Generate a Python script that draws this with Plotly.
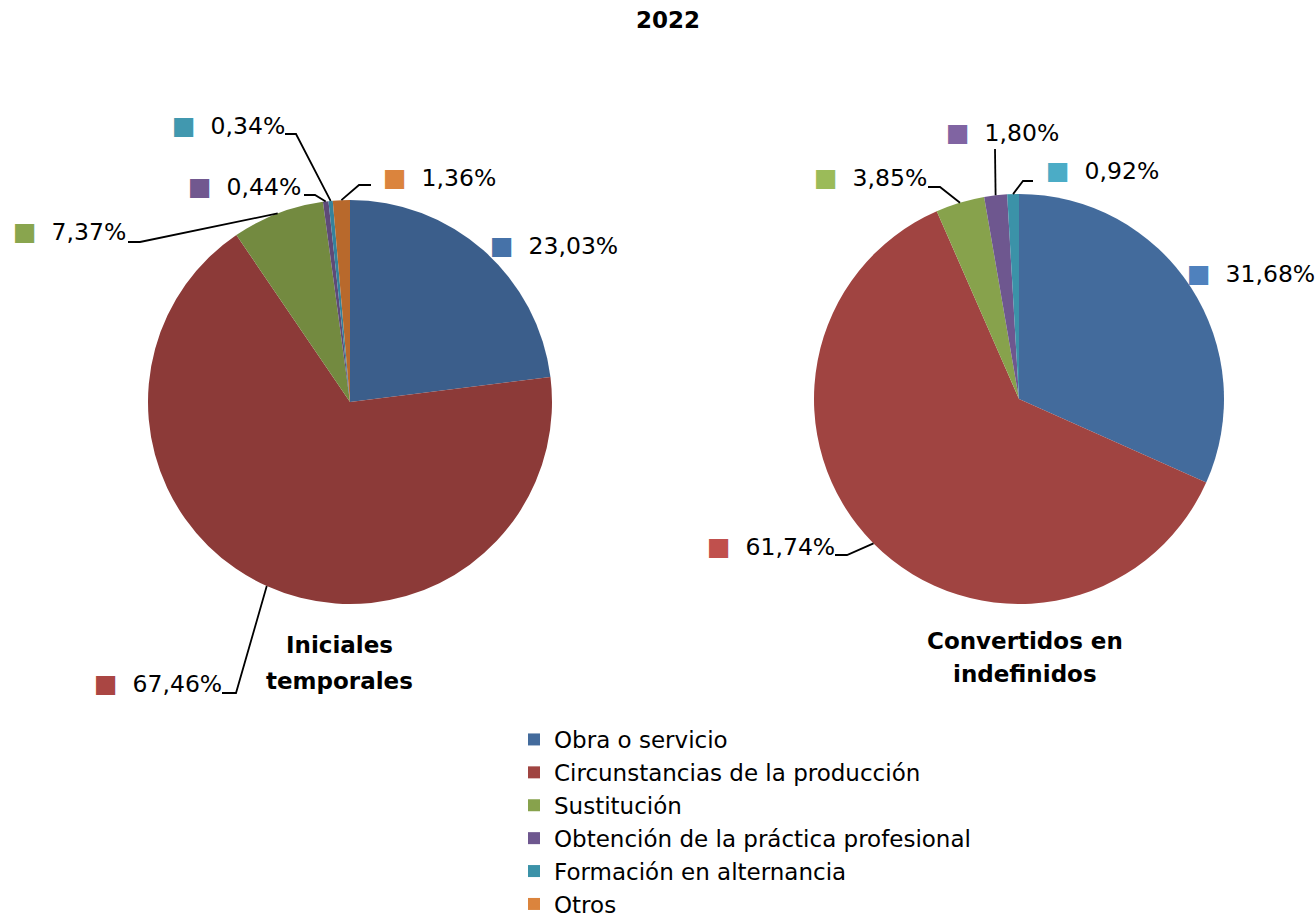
import math
import plotly.graph_objects as go

# ---------------- data ----------------
categories = ["Obra o servicio", "Circunstancias de la producción", "Sustitución",
              "Obtención de la práctica profesional", "Formación en alternancia", "Otros"]
iniciales_pct = [23.03, 67.46, 7.37, 0.44, 0.34, 1.36]
convertidos_pct = [31.68, 61.74, 3.85, 1.80, 0.92, 0.0]
chart_title = "2022"
pie_titles = [["Iniciales", "temporales"], ["Convertidos en", "indefinidos"]]

# ---------------- styles ----------------
W, H = 1316, 923
FONT = "DejaVu Sans"
left_slice_colors = ["#3B5E8B", "#8C3A38", "#738A40", "#5E4A78", "#35829B", "#B8692C"]
right_slice_colors = ["#436B9C", "#A04441", "#87A24C", "#6E578F", "#3B92A8", "#DB843D"]
left_key_colors = ["#4672A8", "#AA4643", "#89A54E", "#71588F", "#4198AF", "#DB843D"]
right_key_colors = ["#4F81BD", "#C0504D", "#9BBB59", "#8064A2", "#4BACC6", "#F79646"]

# pie geometry (pixels)
left_center, left_r = (350, 402), 202
right_center, right_r = (1019, 399), 205

# label placement (pixels: left edge of key square, vertical centre)
left_label_pos = [(489, 246), (93, 683), (12, 232), (187, 186), (171, 125), (382, 177)]
right_label_pos = [(1186, 273), (706, 546), (813, 177), (945, 132), (1045, 170), None]
# leader line start points and elbow offset (pixels)
left_leader = [None, ((222, 693), 14), ((128, 242), 12), ((304, 195), 11), ((285, 134), 11), ((371, 185), -12)]
right_leader = [None, ((835, 555), 12), ((928, 187), 12), ((995, 149), 0), ((1033, 181), -10), None]


def to_paper(x, y):
    return x / W, 1 - y / H


def domain(center, r):
    cx, cy = center
    return dict(x=[(cx - r) / W, (cx + r) / W], y=[1 - (cy + r) / H, 1 - (cy - r) / H])


def edge_point(center, r, values, i):
    total = sum(values)
    cum = sum(values[:i]) + values[i] / 2
    theta = math.radians(90 - 360 * cum / total)
    return center[0] + r * math.cos(theta), center[1] - r * math.sin(theta)


def fmt(v):
    return f"{v:.2f}".replace(".", ",") + "%"


fig = go.Figure()
fig.add_trace(go.Pie(
    labels=categories, values=convertidos_pct, sort=False, direction="clockwise",
    marker=dict(colors=right_slice_colors, line=dict(width=0)),
    textinfo="none", hoverinfo="label+percent", domain=domain(right_center, right_r),
    showlegend=True, name="Convertidos en indefinidos"))
fig.add_trace(go.Pie(
    labels=categories, values=iniciales_pct, sort=False, direction="clockwise",
    marker=dict(colors=left_slice_colors, line=dict(width=0)),
    textinfo="none", hoverinfo="label+percent", domain=domain(left_center, left_r),
    showlegend=False, name="Iniciales temporales"))

annotations = []
shapes = []


def add_labels(values, center, r, positions, leaders, keys):
    for i, v in enumerate(values):
        if positions[i] is None or v <= 0:
            continue
        px, py = positions[i]
        x, y = to_paper(px, py)
        annotations.append(dict(
            x=x, y=y, xref="paper", yref="paper", xanchor="left", yanchor="middle",
            showarrow=False, borderpad=0,
            text=f"<span style='color:{keys[i]};font-size:25px'>■</span>\u00a0\u00a0{fmt(v)}",
            font=dict(family=FONT, size=23.5, color="#000000")))
        if leaders[i] is not None:
            (sx, sy), dx = leaders[i]
            ex, ey = edge_point(center, r, values, i)
            p0 = to_paper(sx, sy)
            p1 = to_paper(sx + dx, sy)
            p2 = to_paper(ex, ey)
            shapes.append(dict(
                type="path", xref="paper", yref="paper",
                path=f"M {p0[0]} {p0[1]} L {p1[0]} {p1[1]} L {p2[0]} {p2[1]}",
                line=dict(color="#000000", width=1.8)))


add_labels(iniciales_pct, left_center, left_r, left_label_pos, left_leader, left_key_colors)
add_labels(convertidos_pct, right_center, right_r, right_label_pos, right_leader, right_key_colors)

# pie titles
title_pos = [[(339, 645), (339, 681)], [(1025, 641), (1025, 674)]]
for lines, poss in zip(pie_titles, title_pos):
    for txt, (px, py) in zip(lines, poss):
        x, y = to_paper(px, py)
        annotations.append(dict(x=x, y=y, xref="paper", yref="paper", xanchor="center",
                                yanchor="middle", showarrow=False, text=f"<b>{txt}</b>",
                                font=dict(family=FONT, size=23, color="#000000")))

fig.update_layout(
    width=W, height=H, autosize=False,
    margin=dict(l=0, r=0, t=0, b=0, autoexpand=False),
    paper_bgcolor="#FFFFFF", plot_bgcolor="#FFFFFF",
    font=dict(family=FONT, size=23, color="#000000"),
    title=dict(text=f"<b>{chart_title}</b>", x=668 / W, y=1 - 20 / H, xanchor="center",
               yanchor="middle", font=dict(family=FONT, size=23, color="#000000")),
    legend=dict(x=514 / W, y=-3 / H, xanchor="left", yanchor="bottom",
                orientation="v", font=dict(family=FONT, size=23, color="#000000"),
                itemwidth=30, bgcolor="rgba(0,0,0,0)", traceorder="normal"),
    annotations=annotations, shapes=shapes,
)

fig.write_html("out.html", config={"displayModeBar": False})
with open("out.html", "r", encoding="utf-8") as f:
    html = f.read()
html = html.replace("<body>", "<body style=\"margin:0;overflow:hidden\">", 1)
with open("out.html", "w", encoding="utf-8") as f:
    f.write(html)
